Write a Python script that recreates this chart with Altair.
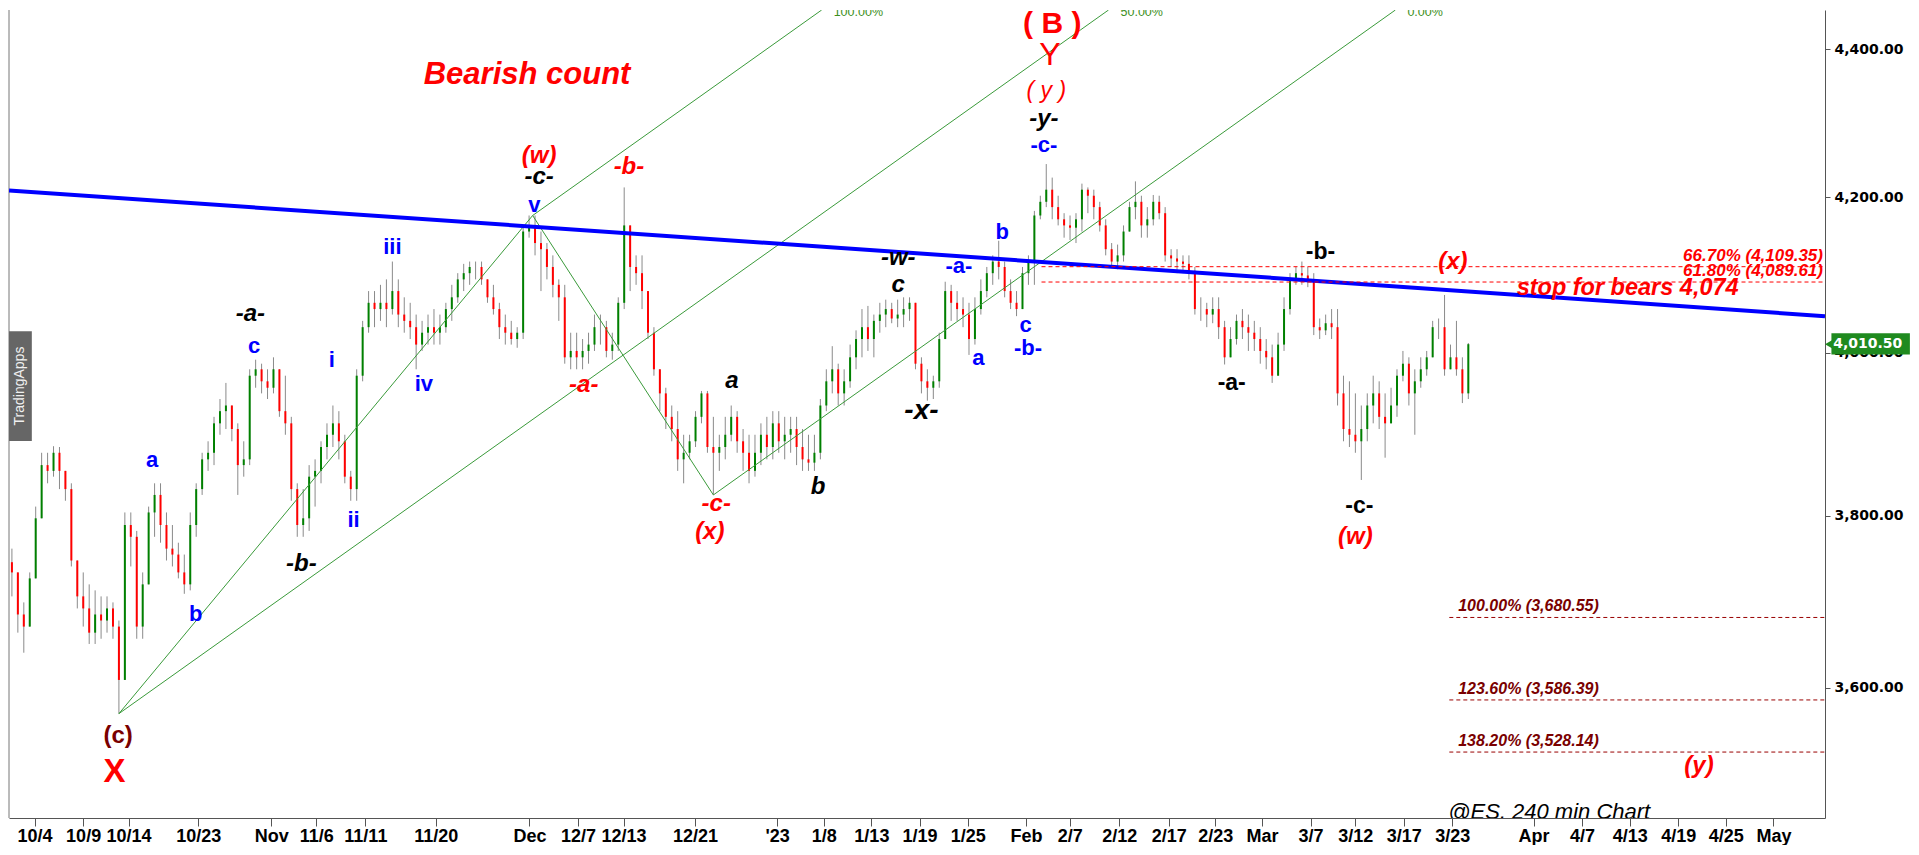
import altair as alt
import pandas as pd
import numpy as np

# ---------------- data ----------------
# 240-min bars, sampled every half session (x = session index, 10/4 = 0)
first_open = 3745
highs = [3761, 3733, 3698, 3733, 3811, 3876, 3876, 3884, 3883, 3854,
         3839, 3747, 3733, 3719, 3712, 3705, 3705, 3698, 3677, 3804,
         3804, 3782, 3733, 3811, 3839, 3839, 3804, 3789, 3768, 3754,
         3804, 3839, 3876, 3890, 3920, 3942, 3962, 3934, 3912, 3890,
         3979, 3991, 3986, 3979, 3994, 3971, 3971, 3920, 3839, 3832,
         3861, 3868, 3890, 3912, 3934, 3927, 3898, 3854, 3979, 4040,
         4078, 4078, 4086, 4093, 4116, 4093, 4070, 4063, 4048, 4040,
         4048, 4055, 4048, 4063, 4086, 4101, 4113, 4116, 4116, 4116,
         4093, 4086, 4063, 4048, 4040, 4032, 4163, 4176, 4176, 4155,
         4140, 4124, 4093, 4086, 4025, 4025, 4017, 4025, 4048, 4048,
         4040, 4025, 4070, 4213, 4140, 4124, 4124, 4078, 4032, 3979,
         3956, 3934, 3927, 3898, 3898, 3927, 3952, 3952, 3920, 3898,
         3920, 3934, 3927, 3905, 3898, 3898, 3912, 3920, 3927, 3927,
         3920, 3920, 3920, 3905, 3898, 3898, 3942, 3979, 4008, 3986,
         3979, 4010, 4028, 4055, 4059, 4048, 4063, 4067, 4063, 4067,
         4070, 4070, 4063, 3994, 3979, 3971, 4025, 4090, 4086, 4078,
         4070, 4063, 4070, 4093, 4109, 4124, 4143, 4116, 4093, 4078,
         4109, 4124, 4182, 4202, 4244, 4226, 4202, 4179, 4176, 4179,
         4218, 4213, 4210, 4194, 4171, 4140, 4138, 4163, 4194, 4221,
         4202, 4187, 4203, 4202, 4187, 4132, 4132, 4124, 4124, 4109,
         4070, 4063, 4070, 4070, 4040, 4032, 4048, 4055, 4048, 4040,
         4032, 4017, 4010, 4025, 4070, 4101, 4109, 4116, 4109, 4101,
         4043, 4048, 4055, 4055, 3971, 3964, 3949, 3934, 3949, 3971,
         3964, 3949, 3956, 3979, 4002, 3994, 3979, 3994, 4002, 4040,
         4043, 4073, 4010, 4040, 3994, 4012]
lows = [3705, 3663, 3640, 3677, 3761, 3832, 3839, 3847, 3832, 3818,
        3740, 3691, 3670, 3650, 3650, 3656, 3663, 3656, 3571, 3609,
        3740, 3656, 3656, 3719, 3775, 3768, 3747, 3740, 3726, 3708,
        3712, 3775, 3825, 3854, 3861, 3898, 3905, 3890, 3825, 3847,
        3861, 3956, 3949, 3942, 3949, 3920, 3898, 3818, 3775, 3775,
        3782, 3811, 3839, 3868, 3883, 3868, 3839, 3818, 3818, 3964,
        4025, 4032, 4040, 4032, 4048, 4032, 4025, 4017, 3979, 4002,
        4010, 4010, 4010, 4025, 4040, 4063, 4078, 4086, 4093, 4086,
        4063, 4048, 4017, 4010, 4010, 4006, 4017, 4147, 4124, 4078,
        4093, 4070, 4040, 3986, 3979, 3979, 3979, 3986, 4002, 4010,
        3994, 3991, 4002, 4055, 4078, 4086, 4055, 4017, 3971, 3927,
        3905, 3890, 3854, 3839, 3868, 3883, 3912, 3876, 3825, 3854,
        3868, 3890, 3876, 3854, 3839, 3847, 3861, 3868, 3868, 3876,
        3868, 3876, 3861, 3854, 3854, 3854, 3868, 3927, 3949, 3934,
        3934, 3956, 3979, 3994, 4002, 3994, 4025, 4032, 4037, 4032,
        4032, 4040, 3979, 3949, 3940, 3942, 3956, 4017, 4040, 4040,
        4032, 3997, 4010, 4048, 4070, 4086, 4093, 4070, 4055, 4046,
        4055, 4086, 4086, 4171, 4187, 4171, 4163, 4147, 4144, 4140,
        4155, 4179, 4171, 4155, 4124, 4109, 4106, 4116, 4155, 4171,
        4147, 4147, 4163, 4171, 4116, 4109, 4101, 4101, 4093, 4048,
        4040, 4032, 4037, 4017, 3985, 3994, 4010, 4017, 4002, 4002,
        3986, 3979, 3962, 3971, 4002, 4048, 4086, 4086, 4083, 4022,
        4017, 4022, 4017, 3934, 3890, 3883, 3876, 3843, 3890, 3912,
        3905, 3870, 3912, 3920, 3964, 3934, 3898, 3956, 3971, 3994,
        4017, 3971, 3979, 3971, 3937, 3942]
closes = [3733, 3684, 3670, 3726, 3797, 3861, 3854, 3876, 3854, 3832,
          3747, 3705, 3691, 3663, 3684, 3677, 3691, 3670, 3609, 3789,
          3775, 3670, 3719, 3804, 3825, 3789, 3761, 3754, 3733, 3719,
          3789, 3832, 3868, 3876, 3912, 3927, 3934, 3905, 3861, 3868,
          3971, 3979, 3964, 3956, 3979, 3927, 3912, 3832, 3789, 3797,
          3847, 3854, 3883, 3898, 3912, 3890, 3847, 3832, 3971, 4032,
          4063, 4055, 4063, 4055, 4078, 4048, 4040, 4032, 4010, 4025,
          4032, 4025, 4032, 4055, 4070, 4093, 4101, 4109, 4109, 4093,
          4070, 4055, 4032, 4025, 4017, 4025, 4155, 4163, 4140, 4132,
          4109, 4086, 4070, 3994, 4002, 3994, 4002, 4010, 4032, 4032,
          4002, 4010, 4063, 4163, 4109, 4101, 4078, 4025, 3979, 3949,
          3920, 3905, 3868, 3876, 3890, 3920, 3949, 3883, 3876, 3883,
          3898, 3920, 3890, 3876, 3854, 3876, 3898, 3883, 3912, 3890,
          3898, 3905, 3883, 3868, 3864, 3876, 3934, 3964, 3979, 3949,
          3964, 3994, 4017, 4032, 4017, 4040, 4048, 4055, 4043, 4048,
          4055, 4063, 3986, 3964, 3956, 3964, 4017, 4078, 4063, 4055,
          4048, 4017, 4055, 4078, 4101, 4116, 4109, 4078, 4063, 4055,
          4101, 4116, 4176, 4194, 4210, 4187, 4171, 4163, 4160, 4171,
          4210, 4202, 4187, 4163, 4132, 4116, 4124, 4155, 4187, 4194,
          4163, 4171, 4194, 4179, 4124, 4120, 4116, 4113, 4104, 4055,
          4055, 4048, 4055, 4032, 3994, 4017, 4040, 4032, 4025, 4017,
          4002, 3994, 3971, 4010, 4055, 4093, 4101, 4098, 4093, 4032,
          4028, 4037, 4032, 3949, 3905, 3898, 3890, 3905, 3934, 3949,
          3920, 3912, 3934, 3971, 3986, 3949, 3964, 3979, 3994, 4032,
          4032, 3979, 3994, 3979, 3949, 4010.5]
bar_start = -2.0
bar_step = 0.5

# x-axis labels (session index positions)
tick_pos = [-0.1, 3.99, 7.81, 13.68, 19.81, 23.6, 27.73, 33.65, 41.53, 45.61,
            49.45, 55.45, 62.37, 66.29, 70.29, 74.34, 78.4, 83.3, 86.97, 91.14,
            95.31, 99.22, 103.14, 107.23, 110.98, 115.07, 119.15, 125.99, 130.07,
            134.07, 138.16, 142.16, 146.16]
tick_lab = ["10/4", "10/9", "10/14", "10/23", "Nov", "11/6", "11/11", "11/20", "Dec",
            "12/7", "12/13", "12/21", "'23", "1/8", "1/13", "1/19", "1/25", "Feb",
            "2/7", "2/12", "2/17", "2/23", "Mar", "3/7", "3/12", "3/17", "3/23",
            "Apr", "4/7", "4/13", "4/19", "4/25", "May"]
y_ticks = [3600, 3800, 4000, 4200, 4400]

# trendline (blue)
trend_x = [-2.245, 150.5]
trend_y = [4209, 4046]

# pitchfork pivots: (c) low, (w) top, (x) low
piv_x = [7.0, 41.8, 57.0]
piv_y = [3571.0, 4176.0, 3825.0]
fork_labels = ["50.00%", "100.00%", "0.00%"]

# fib levels
fib_hi_vals = [4109.35, 4089.61]
fib_hi_text = ["66.70% (4,109.35)", "61.80% (4,089.61)"]
fib_hi_start = 84.6
fib_lo_vals = [3680.55, 3586.39, 3528.14]
fib_lo_text = ["100.00% (3,680.55)", "123.60% (3,586.39)", "138.20% (3,528.14)"]
fib_lo_start = 118.9
fib_lo_text_x = 119.65
last_price = 4010.50

# wave labels: text, x, price, group
wave_text = ["a", "b", "c", "i", "ii", "iii", "iv", "v", "-a-", "a", "b", "c", "-b-", "-c-",
             "-a-", "-b-", "-c-", "a", "b", "c", "-w-", "-y-",
             "-x-",
             "-a-", "-b-", "-c-",
             "(w)", "-b-", "-a-", "-c-", "(x)", "(w)", "(x)", "(y)",
             "(c)", "X", "( B )", "Y", "( y )", "Bearish count", "stop for bears 4,074"]
wave_x = [9.8, 13.47, 18.37, 24.9, 26.73, 30.0, 32.65, 41.94, 77.65, 79.3, 81.3, 83.27, 83.47, 84.8,
          18.06, 22.35, 42.35, 58.57, 65.8, 72.55, 72.55, 84.8,
          74.5,
          100.6, 108.06, 111.33,
          42.35, 49.9, 46.1, 57.24, 56.7, 111.0, 119.2, 139.9,
          6.94, 6.63, 85.5, 85.3, 85.0, 41.33, 133.9]
wave_y = [3867, 3685, 4008, 3991, 3795, 4135, 3961, 4190, 4110, 3993, 4155, 4035, 4006, 4269,
          4049, 3743, 4227, 3965, 3835, 4086, 4121, 4305,
          3927,
          3962, 4128, 3812,
          4255, 4240, 3960, 3814, 3781, 3775, 4115, 3513,
          3546, 3506, 4435, 4392, 4342, 4365, 4082]
wave_grp = (["blue"] * 14 + ["blk_it"] * 8 + ["blk_big"] + ["blk"] * 3 + ["red_it"] * 8 +
            ["dred", "redX", "redB", "redY", "red_y", "title", "stop"])

# ---------------- layout ----------------
XMIN, XMAX = -2.245, 150.5
YMIN, YMAX = 3455.8, 4454.5
W, H = 1816, 808
FONT = "Liberation Sans"

xs = alt.Scale(domain=[XMIN, XMAX], nice=False, zero=False)
ys = alt.Scale(type="log", domain=[YMIN, YMAX], nice=False, zero=False)

n = len(closes)
opens = [first_open] + closes[:-1]
bars = pd.DataFrame({"d": [bar_start + bar_step * i for i in range(n)],
                     "open": opens, "high": highs, "low": lows, "close": closes})
bars["high"] = bars[["high", "open", "close"]].max(axis=1)
bars["low"] = bars[["low", "open", "close"]].min(axis=1)
bars["dir"] = np.where(bars["close"] >= bars["open"], "up", "down")

base = alt.Chart(bars)
wick = base.mark_rule(color="#8a8a8a", strokeWidth=1).encode(
    x=alt.X("d:Q", scale=xs, axis=alt.Axis(
        values=tick_pos, title=None, grid=False, orient="bottom",
        labelExpr="%s[indexof(%s, datum.value)]" % (str(tick_lab), str(tick_pos)),
        labelFont=FONT, labelFontWeight="bold", labelFontSize=18, labelColor="#000",
        tickSize=8, tickColor="#555", domainColor="#555", labelPadding=1,
        labelFlush=False, labelOverlap=False)),
    y=alt.Y("low:Q", scale=ys, axis=alt.Axis(
        values=y_ticks, format=",.2f", orient="right", title=None, grid=False,
        labelFont="DejaVu Sans", labelFontWeight="bold", labelFontSize=14,
        labelColor="#000", tickSize=5, tickColor="#555", domainColor="#555",
        labelPadding=4, labelFlush=False)),
    y2="high:Q")
body = base.mark_rule(strokeWidth=2).encode(
    x=alt.X("d:Q", scale=xs), y=alt.Y("open:Q", scale=ys), y2="close:Q",
    color=alt.Color("dir:N", scale=alt.Scale(domain=["up", "down"], range=["#008000", "#ff0000"]),
                    legend=None))

# left frame
frame = alt.Chart(pd.DataFrame({"x": [XMIN], "y": [YMIN], "y2": [YMAX]})).mark_rule(
    color="#777", strokeWidth=1).encode(x=alt.X("x:Q", scale=xs), y=alt.Y("y:Q", scale=ys), y2="y2:Q")

# blue trendline
trend = alt.Chart(pd.DataFrame({"x": trend_x, "y": trend_y})).mark_line(
    color="#0000ff", strokeWidth=4, clip=True).encode(
    x=alt.X("x:Q", scale=xs), y=alt.Y("y:Q", scale=ys))

# pitchfork
lp = np.log(piv_y)
md = (piv_x[1] + piv_x[2]) / 2
ml = (lp[1] + lp[2]) / 2
slope = (ml - lp[0]) / (md - piv_x[0])
top = np.log(YMAX)
rows = []
lab_rows = []
for k, (lbl, i) in enumerate(zip(fork_labels, [0, 1, 2])):
    d_end = piv_x[i] + (top - lp[i]) / slope
    rows += [{"g": "f%d" % k, "o": 0, "x": piv_x[i], "y": piv_y[i]},
             {"g": "f%d" % k, "o": 1, "x": d_end, "y": YMAX}]
    lab_rows.append({"x": d_end, "y": YMAX, "t": lbl})
rows += [{"g": "s0", "o": 0, "x": piv_x[0], "y": piv_y[0]}, {"g": "s0", "o": 1, "x": piv_x[1], "y": piv_y[1]},
         {"g": "s1", "o": 0, "x": piv_x[1], "y": piv_y[1]}, {"g": "s1", "o": 1, "x": piv_x[2], "y": piv_y[2]}]
fork = alt.Chart(pd.DataFrame(rows)).mark_line(color="#3a9a3a", strokeWidth=1, clip=True).encode(
    x=alt.X("x:Q", scale=xs), y=alt.Y("y:Q", scale=ys), detail="g:N", order="o:Q")
fork_lab = alt.Chart(pd.DataFrame(lab_rows)).mark_text(
    align="left", baseline="middle", dx=12, dy=2, fontSize=12.5, font=FONT, color="#3d8f1d", clip=True
).encode(x=alt.X("x:Q", scale=xs), y=alt.Y("y:Q", scale=ys), text="t:N")

# fib lines
fhi = pd.DataFrame({"x": [fib_hi_start] * 2, "x2": [XMAX] * 2, "y": fib_hi_vals, "t": fib_hi_text})
fib_hi_lines = alt.Chart(fhi).mark_rule(color="#ff0000", strokeWidth=1, strokeDash=[4, 3]).encode(
    x=alt.X("x:Q", scale=xs), x2="x2:Q", y=alt.Y("y:Q", scale=ys))
fib_hi_lab = alt.Chart(fhi).mark_text(align="right", baseline="alphabetic", dx=-2, dy=-6,
                                      fontSize=17, fontWeight="bold", fontStyle="italic",
                                      font=FONT, color="#ff0000").encode(
    x=alt.X("x2:Q", scale=xs), y=alt.Y("y:Q", scale=ys), text="t:N")
flo = pd.DataFrame({"x": [fib_lo_start] * 3, "x2": [XMAX] * 3, "xt": [fib_lo_text_x] * 3,
                    "y": fib_lo_vals, "t": fib_lo_text})
fib_lo_lines = alt.Chart(flo).mark_rule(color="#990000", strokeWidth=1, strokeDash=[4, 3]).encode(
    x=alt.X("x:Q", scale=xs), x2="x2:Q", y=alt.Y("y:Q", scale=ys))
fib_lo_lab = alt.Chart(flo).mark_text(align="left", baseline="alphabetic", dy=-6,
                                      fontSize=16, fontWeight="bold", fontStyle="italic",
                                      font=FONT, color="#7a0000").encode(
    x=alt.X("xt:Q", scale=xs), y=alt.Y("y:Q", scale=ys), text="t:N")

# wave labels
waves = pd.DataFrame({"t": wave_text, "x": wave_x, "y": wave_y, "g": wave_grp})
styles = {
    "blue": dict(color="#0000ff", fontSize=22, fontWeight="bold", fontStyle="normal"),
    "blk_it": dict(color="#000000", fontSize=24, fontWeight="bold", fontStyle="italic"),
    "blk_big": dict(color="#000000", fontSize=28, fontWeight="bold", fontStyle="italic"),
    "blk": dict(color="#000000", fontSize=23, fontWeight="bold", fontStyle="normal"),
    "red_it": dict(color="#ff0000", fontSize=24, fontWeight="bold", fontStyle="italic"),
    "dred": dict(color="#7a0000", fontSize=24, fontWeight="bold", fontStyle="normal"),
    "redX": dict(color="#ff0000", fontSize=33, fontWeight="bold", fontStyle="normal"),
    "redB": dict(color="#ff0000", fontSize=30, fontWeight="bold", fontStyle="normal"),
    "redY": dict(color="#ff0000", fontSize=32, fontWeight="normal", fontStyle="normal"),
    "red_y": dict(color="#ff0000", fontSize=23, fontWeight="normal", fontStyle="italic"),
    "title": dict(color="#ff0000", fontSize=31, fontWeight="bold", fontStyle="italic"),
    "stop": dict(color="#ff0000", fontSize=23.5, fontWeight="bold", fontStyle="italic"),
}
wave_layers = []
for g, st in styles.items():
    wave_layers.append(alt.Chart(waves[waves.g == g]).mark_text(
        align="center", baseline="middle", font=FONT, **st).encode(
        x=alt.X("x:Q", scale=xs), y=alt.Y("y:Q", scale=ys), text="t:N"))

# chart caption inside plot (clipped by bottom axis)
cap = alt.Chart(pd.DataFrame({"x": [127.3], "y": [3462], "t": ["@ES, 240 min Chart"]})).mark_text(
    align="center", baseline="middle", fontSize=22, fontStyle="italic", font=FONT,
    color="#000", clip=True).encode(x=alt.X("x:Q", scale=xs), y=alt.Y("y:Q", scale=ys), text="t:N")

# watermark box
wm = pd.DataFrame({"x": [XMIN], "x2": [-0.325], "y": [3890.5], "y2": [4026.8],
                   "xc": [-1.28], "yc": [3958.1], "t": ["TradingApps"]})
wm_box = alt.Chart(wm).mark_rect(color="#666666").encode(
    x=alt.X("x:Q", scale=xs), x2="x2:Q", y=alt.Y("y:Q", scale=ys), y2="y2:Q")
wm_txt = alt.Chart(wm).mark_text(angle=270, color="#f0f0f0", fontSize=14, font=FONT,
                                 baseline="middle", align="center").encode(
    x=alt.X("xc:Q", scale=xs), y=alt.Y("yc:Q", scale=ys), text="t:N")

# last price tag on the axis
tag = pd.DataFrame({"x": [151.04], "x2": [157.64], "y": [3997.6], "y2": [4024.4],
                    "xa": [150.85], "ya": [last_price], "xt": [154.1],
                    "t": ["{:,.2f}".format(last_price)]})
tag_box = alt.Chart(tag).mark_rect(color="#1f8a1f").encode(
    x=alt.X("x:Q", scale=xs), x2="x2:Q", y=alt.Y("y:Q", scale=ys), y2="y2:Q")
tag_arrow = alt.Chart(tag).mark_point(shape="triangle-left", filled=True, size=90, color="#1f8a1f",
                                      opacity=1).encode(
    x=alt.X("xa:Q", scale=xs), y=alt.Y("ya:Q", scale=ys))
tag_txt = alt.Chart(tag).mark_text(color="#ffffff", fontSize=14, fontWeight="bold", font="DejaVu Sans",
                                   align="center", baseline="middle").encode(
    x=alt.X("xt:Q", scale=xs), y=alt.Y("ya:Q", scale=ys), text="t:N")

chart = alt.layer(
    wick, body, frame, fork, trend, fib_hi_lines, fib_lo_lines, fork_lab,
    fib_hi_lab, fib_lo_lab, *wave_layers, cap, wm_box, wm_txt, tag_box, tag_arrow, tag_txt
).properties(width=W, height=H, padding=0, background="#ffffff").configure_view(stroke=None)

chart.save("out.html", embed_options={"renderer": "svg", "actions": False})
